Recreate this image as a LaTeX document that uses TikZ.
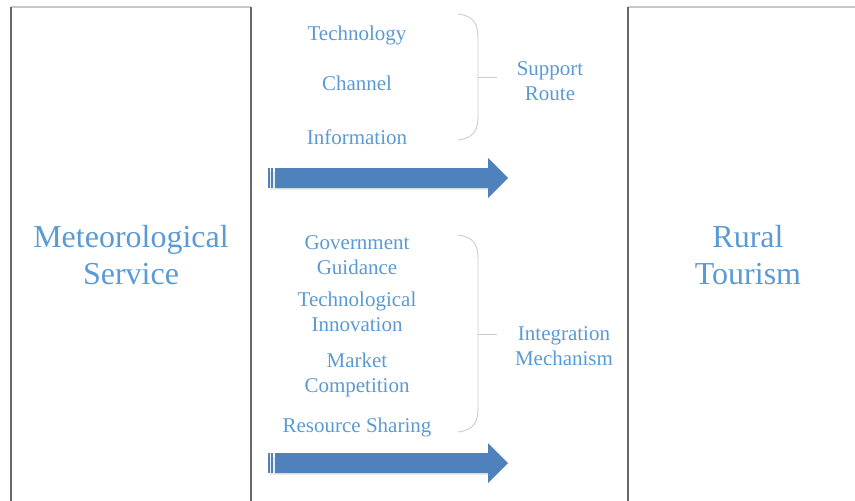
\documentclass[tikz,border=0pt]{standalone}
\usepackage{fontspec}
\setmainfont{Liberation Serif}
\begin{document}
\begin{tikzpicture}[x=1pt,y=-1pt,
  lbl/.style={text=txtblue,align=center,inner sep=0pt,font=\fontsize{21}{25.5}\selectfont},
  big/.style={text=txtblue,align=center,inner sep=0pt,font=\fontsize{32}{37.5}\selectfont},
  side/.style={draw=sidegray,line width=2pt},
  topline/.style={draw=topgray,line width=1.6pt},
  bracket/.style={draw=bracegray,line width=0.9pt},
  flow/.style={fill=arrowblue,draw=none}]
\definecolor{txtblue}{RGB}{91,155,213}
\definecolor{arrowblue}{RGB}{79,129,189}
\definecolor{sidegray}{RGB}{105,105,105}
\definecolor{topgray}{RGB}{200,200,200}
\definecolor{bracegray}{RGB}{205,205,205}
\useasboundingbox (0,0) rectangle (855,501);
\fill[white] (0,0) rectangle (855,501);

% left and right columns (open at the bottom / right)
\draw[topline] (11,7) -- (251,7);
\draw[side] (11,7) -- (11,505);
\draw[side] (251,7) -- (251,505);
\draw[topline] (628,7) -- (860,7);
\draw[side] (628,7) -- (628,505);

\node[big] (ms) at (131,255) {Meteorological\\Service};
\node[big] (rt) at (748,255) {Rural\\Tourism};

% support route group
\node[lbl] (tech) at (357,35) {Technology};
\node[lbl] (chan) at (357,83) {Channel};
\node[lbl] (info) at (357,137) {Information};
\node[lbl] (sr) at (550,81) {Support\\Route};
\draw[bracket] (458,14) .. controls (474,16) and (478,24) .. (478,38)
  -- (478,116) .. controls (478,130) and (474,138) .. (458,140);
\coordinate (b1) at (478,77);
\draw[bracket] (b1) -- (497,77);

% integration mechanism group
\node[lbl] (gg) at (357,255) {Government\\Guidance};
\node[lbl] (ti) at (357,312) {Technological\\Innovation};
\node[lbl] (mc) at (357,375) {Market\\Competition};
\node[lbl] (rs) at (357,427) {Resource Sharing};
\node[lbl] (im) at (564,346) {Integration\\Mechanism};
\draw[bracket] (458,235) .. controls (474,237) and (478,245) .. (478,259)
  -- (478,408) .. controls (478,422) and (474,430) .. (458,432);
\coordinate (b2) at (478,334);
\draw[bracket] (b2) -- (497,334);

% block arrows with striped tails
\foreach \yy/\nm in {178/a1,463/a2}{
  \fill[black!8] (270,\yy-6) rectangle (492,\yy+12);
  \fill[flow] (275,\yy-10) -- (488,\yy-10) -- (488,\yy-20) -- (508,\yy)
    -- (488,\yy+20) -- (488,\yy+10) -- (275,\yy+10) -- cycle;
  \fill[flow] (268,\yy-10) rectangle (270.2,\yy+10);
  \fill[flow] (271.2,\yy-10) rectangle (273.4,\yy+10);
  \coordinate (\nm) at (508,\yy);
}
\end{tikzpicture}
\end{document}
